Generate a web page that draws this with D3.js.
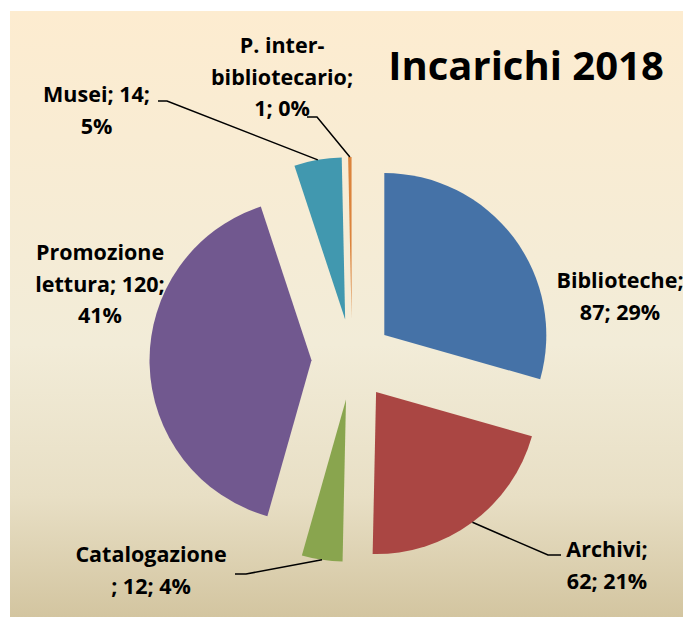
<!DOCTYPE html>
<html>
<head>
<meta charset="utf-8">
<script src="https://cdn.jsdelivr.net/npm/d3@7"></script>
<style>
  body { margin: 0; background: #fff; }
  svg { display: block; }
  text { font-family: "Open Sans", Lato, sans-serif; font-weight: bold; fill: #000; }
</style>
</head>
<body>
<svg id="pie_svg" width="686" height="617"></svg>
<script>
// data
const categories = ['Biblioteche', 'Archivi', 'Catalogazione', 'Promozione lettura', 'Musei', 'P. inter-bibliotecario'];
const values = [87, 62, 12, 120, 14, 1];
const sliceColors = ['#4572a7', '#aa4643', '#89a54e', '#71588f', '#4198af', '#db843d'];
const labelLines = [
    ['Biblioteche;', '87; 29%'],
    ['Archivi;', '62; 21%'],
    ['Catalogazione', '; 12; 4%'],
    ['Promozione', 'lettura; 120;', '41%'],
    ['Musei; 14;', '5%'],
    ['P. inter-', 'bibliotecario;', '1; 0%']
];
const chartTitle = 'Incarichi 2018';

function createPie() {
    const svg = d3.select('#pie_svg');

    // background panel with the vertical gradient
    const defs = svg.append('defs');
    const grad = defs.append('linearGradient')
        .attr('id', 'bg_grad')
        .attr('x1', 0).attr('y1', 0).attr('x2', 0).attr('y2', 1);
    grad.append('stop').attr('offset', '0%').attr('stop-color', '#fdecd0');
    grad.append('stop').attr('offset', '55%').attr('stop-color', '#f2ecd8');
    grad.append('stop').attr('offset', '80%').attr('stop-color', '#e8dfc5');
    grad.append('stop').attr('offset', '100%').attr('stop-color', '#d3c5a0');

    svg.append('rect')
        .attr('x', 10).attr('y', 11)
        .attr('width', 673).attr('height', 606)
        .style('fill', 'url(#bg_grad)');

    const cx = 352, cy = 359.5;
    const radius = 162;
    const explode = 40.5;

    const pie = d3.pie().sort(null).value(d => d.value);
    const arc = d3.arc().innerRadius(0).outerRadius(radius);

    const data = categories.map((c, i) => ({ name: c, value: values[i], color: sliceColors[i], lines: labelLines[i] }));
    const arcs = pie(data);

    const g = svg.append('g').attr('transform', `translate(${cx},${cy})`);

    // offset of each exploded slice along its bisector
    function shift(d, r) {
        const a = (d.startAngle + d.endAngle) / 2;
        return [Math.sin(a) * r, -Math.cos(a) * r];
    }

    g.selectAll('path')
        .data(arcs)
        .enter()
        .append('path')
        .attr('transform', d => `translate(${shift(d, explode)})`)
        .attr('d', arc)
        .style('fill', d => d.data.color);

    // label placement (where Excel put them), relative to the page
    const labelPos = {
        'Biblioteche': { x: 620, y: 288 },
        'Archivi': { x: 607, y: 557 },
        'Catalogazione': { x: 151, y: 562 },
        'Promozione lettura': { x: 100, y: 260 },
        'Musei': { x: 96.5, y: 102 },
        'P. inter-bibliotecario': { x: 282, y: 53 }
    };
    // leader lines: knee point and end of the short horizontal tail
    const leaders = {
        'Archivi': [[548, 555], [561, 555]],
        'Catalogazione': [[246, 574], [235, 574]],
        'Musei': [[167, 101], [158, 101]],
        'P. inter-bibliotecario': [[317, 117], [307, 117]]
    };

    arcs.forEach(d => {
        const name = d.data.name;
        if (leaders[name]) {
            const s = shift(d, explode + radius);
            const pts = [[cx + s[0], cy + s[1]]].concat(leaders[name]);
            svg.append('path')
                .attr('d', d3.line()(pts))
                .style('fill', 'none')
                .style('stroke', '#000')
                .style('stroke-width', 1.5);
        }
        const p = labelPos[name];
        const t = svg.append('text')
            .attr('x', p.x)
            .attr('y', p.y)
            .style('text-anchor', 'middle')
            .style('font-size', '21.5px');
        d.data.lines.forEach((line, i) => {
            t.append('tspan')
                .attr('x', p.x)
                .attr('y', p.y + i * 31.5)
                .text(line);
        });
    });

    svg.append('text')
        .attr('x', 526)
        .attr('y', 80)
        .style('text-anchor', 'middle')
        .style('font-size', '40px')
        .text(chartTitle);
}

createPie();
</script>
</body>
</html>
